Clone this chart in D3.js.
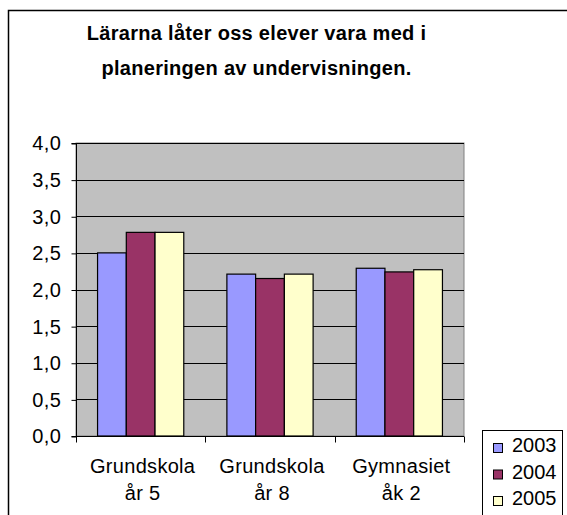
<!DOCTYPE html>
<html><head><meta charset="utf-8">
<script src="https://cdn.jsdelivr.net/npm/d3@7"></script>
<style>body{margin:0;background:#fff}svg{display:block;font-family:Arial,"Liberation Sans",sans-serif}</style>
</head><body>
<svg id="c" width="567" height="515"></svg>
<script>
const categories = [["Grundskola","år 5"],["Grundskola","år 8"],["Gymnasiet","åk 2"]];
const seriesNames = ["2003","2004","2005"];
const values2003 = [2.50, 2.21, 2.29];
const values2004 = [2.78, 2.15, 2.24];
const values2005 = [2.78, 2.21, 2.27];
const yTicks = [0,0.5,1,1.5,2,2.5,3,3.5,4];
const titleLines = ["Lärarna låter oss elever vara med i","planeringen av undervisningen."];
const colors = ["#9999FF","#993366","#FFFFCC"];

const series = [values2003, values2004, values2005];
const svg = d3.select("#c");
const L=76, R=464, T=143, B=436;

// outer chart border
svg.append("rect").attr("x",8.5).attr("y",10.5).attr("width",620).attr("height",620)
  .attr("fill","#fff").attr("stroke","#000").attr("stroke-width",1.5);

// title
svg.append("g").selectAll("text").data(titleLines).join("text")
  .attr("x",256.5).attr("y",(d,i)=>39.5+i*35)
  .attr("text-anchor","middle").attr("font-weight","bold").attr("font-size",20)
  .attr("letter-spacing",0.3).text(d=>d);

const y = d3.scaleLinear().domain([0,4]).range([B,T]);
const x0 = d3.scaleBand().domain(d3.range(categories.length)).range([L,R]).paddingInner(0).paddingOuter(0);
const x1 = d3.scaleBand().domain(d3.range(seriesNames.length)).range([0,x0.bandwidth()]).paddingInner(0).paddingOuter(0.75);

// plot area
svg.append("rect").attr("x",L).attr("y",T).attr("width",R-L).attr("height",B-T)
  .attr("fill","#C0C0C0").attr("stroke","#808080").attr("stroke-width",1);

// gridlines
svg.append("g").selectAll("line").data(yTicks.filter(d=>d>0)).join("line")
  .attr("x1",L).attr("x2",R).attr("y1",d=>Math.round(y(d))+0.5).attr("y2",d=>Math.round(y(d))+0.5)
  .attr("stroke","#000").attr("stroke-width",1);

// bars
const g = svg.append("g");
series.forEach((vals,si)=>{
  g.selectAll(null).data(vals).join("rect")
    .attr("x",(d,ci)=>x0(ci)+x1(si))
    .attr("y",d=>y(d))
    .attr("width",x1.bandwidth())
    .attr("height",d=>B-y(d))
    .attr("fill",colors[si]).attr("stroke","#000").attr("stroke-width",1.2);
});

// y axis
const yAxis = d3.axisLeft(y).tickValues(yTicks).tickSize(5).tickPadding(10)
  .tickFormat(d=>d3.format(".1f")(d).replace(".",","));
const ya = svg.append("g").attr("transform",`translate(${L+0.5},0.5)`).call(yAxis);
ya.selectAll("text").attr("font-size",20).attr("letter-spacing",0.5).attr("fill","#000").attr("font-family","Arial, 'Liberation Sans', sans-serif");
ya.selectAll("line,path").attr("stroke","#000");
ya.select(".domain").attr("d",`M-5,${T}H0V${B}H-5`);

// x axis
const xb = d3.scaleLinear().domain([0,categories.length]).range([L,R]);
const xa = svg.append("g").attr("transform",`translate(0,${B+0.5})`);
xa.append("line").attr("x1",L).attr("x2",R).attr("stroke","#000");
xa.selectAll(".tk").data(d3.range(categories.length+1)).join("line").attr("class","tk")
  .attr("x1",d=>Math.round(xb(d))+0.5).attr("x2",d=>Math.round(xb(d))+0.5).attr("y1",0).attr("y2",6).attr("stroke","#000");
const cl = svg.append("g").selectAll("text").data(categories).join("text")
  .attr("x",(d,i)=>x0(i)+x0.bandwidth()/2+2).attr("y",473).attr("text-anchor","middle")
  .attr("font-size",20).attr("letter-spacing",0.3);
cl.selectAll("tspan").data(d=>d).join("tspan")
  .attr("x",function(){return d3.select(this.parentNode).attr("x");})
  .attr("dy",(d,i)=>i?27:0).text(d=>d);

// legend
const lg = svg.append("g");
lg.append("rect").attr("x",482.5).attr("y",430.5).attr("width",80).attr("height",120)
  .attr("fill","#fff").attr("stroke","#000").attr("stroke-width",1);
seriesNames.forEach((s,i)=>{
  lg.append("rect").attr("x",493.5).attr("y",443.5+i*26.5).attr("width",9).attr("height",9)
    .attr("fill",colors[i]).attr("stroke","#000").attr("stroke-width",1);
  lg.append("text").attr("x",512).attr("y",452+i*26.5).attr("font-size",20).text(s);
});
</script>
</body></html>
